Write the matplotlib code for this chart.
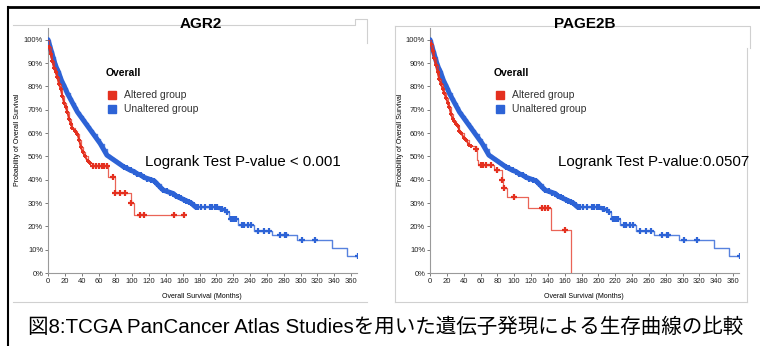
import matplotlib
matplotlib.use("Agg")
import matplotlib.pyplot as plt
import numpy as np
from matplotlib.lines import Line2D
from matplotlib.patches import Rectangle

W, H = 760, 346
plt.rcParams['font.family'] = ['Liberation Sans', 'DejaVu Sans']

# unaltered group (same shape in both panels)
blue_t = [0, 2, 4, 6, 8, 10, 12, 14, 16, 18, 20, 23, 26, 29, 32, 35, 38, 41, 44, 47, 50,
          54, 58, 62, 66, 70, 74, 78, 82, 86, 90, 94, 98, 102, 106, 110, 114, 118, 122,
          126, 130, 134, 137, 141, 145, 149, 152, 155, 158, 161, 164, 167, 170, 173, 176,
          197, 203, 208, 212, 215, 225, 226, 244, 245, 265, 266, 295, 296, 336, 337, 354, 355, 368]
blue_s = [100, 97.5, 95, 92.5, 90, 88, 86.5, 84.5, 82.5, 81, 79.5, 77, 75, 73, 71, 69, 67.5, 66,
          64.5, 63, 61.5, 59.5, 57.5, 55.5, 53, 50.5, 49.5, 48.5, 47.5, 46.5, 45.5, 44.8, 44, 43.5,
          42.5, 42, 41, 40.5, 40, 39.5, 38, 36.5, 35.5, 35, 34.5, 34, 33, 32.5, 32, 31.5, 31, 30.5,
          30, 29, 28.1, 28.1, 27.5, 27, 26, 23.1, 23.1, 20.6, 20.6, 18, 18, 16.3, 16.3, 14.1, 14.1,
          10.6, 10.6, 7.1, 7.1]
blue_cens = [178, 182, 186, 192, 195, 198, 201, 205, 207, 210, 213, 217, 219, 221, 223,
             230, 233, 237, 241, 249, 256, 263, 276, 281, 283, 302, 317, 368]

# altered group, AGR2
agr2_t = [0, 1, 3, 5, 7, 9, 11, 13, 15, 17, 19, 21, 23, 25, 27, 29, 32, 35, 37, 39, 41, 44,
          47, 50, 53, 71, 79, 98, 102, 162]
agr2_s = [100, 97, 94, 91, 88, 86, 84, 81, 79, 76, 73, 71, 69, 66, 64, 62, 61, 59.5, 57,
          54, 52, 50, 48, 47, 46, 41, 34.5, 30, 25, 25]
agr2_cens = [54, 57, 61, 64, 67, 70, 77, 80, 85, 91, 99, 109, 114, 150, 162]

# altered group, PAGE2B
page_t = [0, 1, 3, 5, 7, 9, 11, 13, 15, 17, 19, 21, 23, 25, 27, 29, 31, 33, 35, 37, 40, 43,
          46, 49, 55, 56, 57, 76, 85, 87, 91, 116, 144, 167]
page_s = [100, 98, 95, 92, 89, 86, 83, 81, 79, 77, 75, 73, 71, 68, 66, 65, 64, 63, 61, 60,
          58, 57, 55, 54.5, 53, 48.5, 46.5, 44, 40, 36.5, 32.5, 28, 18.5, 0]
page_cens = [55, 60, 63, 67, 72, 80, 86, 88, 100, 133, 137, 140, 160]

panels = [("AGR2", agr2_t, agr2_s, agr2_cens, "Logrank Test P-value < 0.001"),
          ("PAGE2B", page_t, page_s, page_cens, "Logrank Test P-value:0.0507")]

RED = "#e4301f"
BLUE = "#2d63d6"


def surv_at(ts, ss, t):
    i = np.searchsorted(ts, t, side="right") - 1
    return ss[max(i, 0)]


def fx(px):
    return px / W


def fy(py):
    return 1 - py / H


fig = plt.figure(figsize=(W / 100, H / 100), dpi=100)

# outer black border (top and left)
fig.add_artist(Line2D([fx(8), 1], [fy(7), fy(7)], color="black", lw=2))
fig.add_artist(Line2D([fx(8), fx(8)], [fy(7), 0], color="black", lw=1.5))

# light grey panel frames
grey = "#d0d0d0"
for xs, ys in [([13, 355, 355, 367, 367], [25, 25, 19, 19, 43]),
               ([13, 367], [302, 302]),
               ([395, 750, 750], [26, 26, 48]),
               ([395, 395], [26, 302]),
               ([395, 747], [302, 302]),
               ([747, 747], [48, 302])]:
    fig.add_artist(Line2D([fx(x) for x in xs], [fy(y) for y in ys], color=grey, lw=0.8))

offsets = [0, 382]
for (name, rt, rs, rc, ptxt), off in zip(panels, offsets):
    ax = fig.add_axes([fx(48 + off), fy(273), (357 - 48) / W, (273 - 28) / H])
    ax.set_xlim(0, 367)
    ax.set_ylim(0, 105)
    for s in ["top", "right"]:
        ax.spines[s].set_visible(False)
    for s in ["left", "bottom"]:
        ax.spines[s].set_color("#9a9a9a")
        ax.spines[s].set_linewidth(0.8)
    ax.set_xticks(np.arange(0, 361, 20))
    ax.set_yticks(np.arange(0, 101, 10))
    ax.set_yticklabels(["%d%%" % v for v in range(0, 101, 10)])
    ax.tick_params(labelsize=5.5, length=2.5, width=0.6, color="#666666", pad=1,
                   labelcolor="#222222")
    ax.patch.set_alpha(0)

    # unaltered: dense censoring early makes a solid band
    ax.step(blue_t, blue_s, where="post", color=BLUE, lw=1.0, alpha=0.8, zorder=2)
    ax.plot(blue_t[:55], blue_s[:55], "-", color=BLUE, lw=3.6, solid_capstyle="round",
            zorder=3)
    ax.plot(blue_t[30:55], blue_s[30:55], "+", color=BLUE, ms=4, mew=1.5, zorder=3)
    ax.plot(blue_cens, [surv_at(blue_t, blue_s, t) for t in blue_cens], "+",
            color=BLUE, ms=4, mew=1.6, zorder=3)
    # altered
    ax.step(rt, rs, where="post", color=RED, lw=0.9, alpha=0.75, zorder=4)
    n_dense = len([t for t in rt if t <= 50])
    ax.plot(rt[1:n_dense], rs[1:n_dense], "-", color=RED, lw=1.4, zorder=5)
    ax.plot(rt[1:n_dense], rs[1:n_dense], "+", color=RED, ms=3.5, mew=1.4, zorder=5)
    ax.plot(rc, [surv_at(rt, rs, t) for t in rc], "+", color=RED, ms=4, mew=1.6, zorder=5)

    # titles, labels, legend
    fig.text(fx(201 + off * 1.005), fy(24), name, ha="center", va="center",
             fontsize=11, fontweight="bold")
    fig.text(fx(18 + off), fy(140), "Probability of Overall Survival", rotation=90,
             ha="center", va="center", fontsize=5)
    fig.text(fx(202 + off), fy(297), "Overall Survival (Months)", ha="center",
             va="center", fontsize=5)
    lx = 106 + off + (6 if off else 0)
    fig.text(fx(lx), fy(73), "Overall", fontsize=7.5, fontweight="bold", va="center")
    for yy, col, lab in [(95, RED, "Altered group"), (109, BLUE, "Unaltered group")]:
        fig.add_artist(Rectangle((fx(lx + 2), fy(yy + 4)), 8 / W, 8 / H,
                                 color=col, transform=fig.transFigure))
        fig.text(fx(lx + 18), fy(yy), lab, fontsize=7.5, va="center", color="#333333")
    fig.text(fx(145 + off * 1.08), fy(162), ptxt, fontsize=10.8, va="center")

fig.text(fx(28), fy(327),
         "図8:TCGA PanCancer Atlas Studiesを用いた遺伝子発現による生存曲線の比較",
         fontsize=14.8, va="center",
         family=["Liberation Sans", "Noto Sans CJK JP", "DejaVu Sans"])

fig.savefig("out.png", dpi=100)
